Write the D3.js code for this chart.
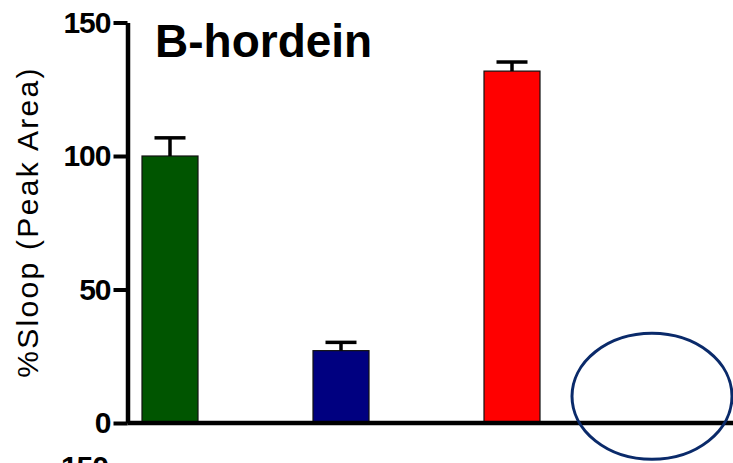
<!DOCTYPE html>
<html>
<head>
<meta charset="utf-8">
<script src="https://cdn.jsdelivr.net/npm/d3@7"></script>
<style>
  body { margin: 0; background: #fff; }
  svg { display: block; font-family: Arial, "Liberation Sans", sans-serif; }
</style>
</head>
<body>
<div id="chart"></div>
<script>
// data
const groups = ["G1", "G2", "G3", "G4"];
const means = [100, 27.1, 131.8, null];
const sems = [6.8, 3.1, 3.4, null];
const barColors = ["#005500", "#000080", "#ff0000", "#ffffff"];
const yTicks = [0, 50, 100, 150];

const width = 733, height = 463;

const svg = d3.select("#chart").append("svg")
  .attr("width", width)
  .attr("height", height);

const x = d3.scalePoint()
  .domain(groups)
  .range([170, 683]);

const y = d3.scaleLinear()
  .domain([0, 150])
  .range([423, 22.5]);

const barW = 56;
const capW = 31;

const data = groups.map((g, i) => ({g, v: means[i], e: sems[i], c: barColors[i]}))
  .filter(d => d.v != null);

// bars
svg.append("g").selectAll("rect")
  .data(data)
  .join("rect")
  .attr("x", d => x(d.g) - barW / 2)
  .attr("y", d => y(d.v))
  .attr("width", barW)
  .attr("height", d => y(0) - y(d.v))
  .attr("fill", d => d.c)
  .attr("stroke", "#111")
  .attr("stroke-width", 1.2);

// error bars (upper only)
const err = svg.append("g").attr("stroke", "#000").attr("stroke-width", 3.5);
err.selectAll("line.stem")
  .data(data)
  .join("line")
  .attr("class", "stem")
  .attr("x1", d => x(d.g)).attr("x2", d => x(d.g))
  .attr("y1", d => y(d.v)).attr("y2", d => y(d.v + d.e));
err.selectAll("line.cap")
  .data(data)
  .join("line")
  .attr("class", "cap")
  .attr("x1", d => x(d.g) - capW / 2).attr("x2", d => x(d.g) + capW / 2)
  .attr("y1", d => y(d.v + d.e)).attr("y2", d => y(d.v + d.e));

// x baseline
svg.append("line")
  .attr("x1", 127.5).attr("x2", width)
  .attr("y1", y(0)).attr("y2", y(0))
  .attr("stroke", "#000")
  .attr("stroke-width", 4.5);

// y axis
const yAxis = svg.append("g")
  .attr("transform", "translate(127.5,0)")
  .call(d3.axisLeft(y).tickValues(yTicks).tickSize(14).tickSizeOuter(0).tickPadding(3));
yAxis.attr("font-family", null).attr("font-size", null);
yAxis.select(".domain").attr("stroke-width", 4.5).attr("stroke", "#000");
yAxis.selectAll(".tick line").attr("stroke-width", 4).attr("stroke", "#000");
yAxis.selectAll(".tick text")
  .attr("fill", "#000")
  .style("font-size", "30px")
  .style("font-weight", "bold")
  .style("letter-spacing", "-1px");

// y title
svg.append("text")
  .attr("transform", "translate(38," + 222 + ") rotate(-90)")
  .attr("text-anchor", "middle")
  .style("font-size", "30px")
  .style("letter-spacing", "2.3px")
  .text("%Sloop (Peak Area)");

// panel title
svg.append("text")
  .attr("x", 155)
  .attr("y", 57)
  .style("font-size", "46px")
  .style("font-weight", "bold")
  .text("B-hordein");

// annotation ellipse around the empty group
svg.append("ellipse")
  .attr("cx", x("G4") - 31)
  .attr("cy", y(10))
  .attr("rx", 80)
  .attr("ry", 63)
  .attr("fill", "none")
  .attr("stroke", "#0a2a6a")
  .attr("stroke-width", 3);

// top of the next panel's tick label, cut off by the frame
svg.append("text")
  .attr("x", 108)
  .attr("y", y(0) + 54)
  .attr("text-anchor", "end")
  .style("font-size", "30px")
  .style("font-weight", "bold")
  .style("letter-spacing", "-1px")
  .text("150");
</script>
</body>
</html>
